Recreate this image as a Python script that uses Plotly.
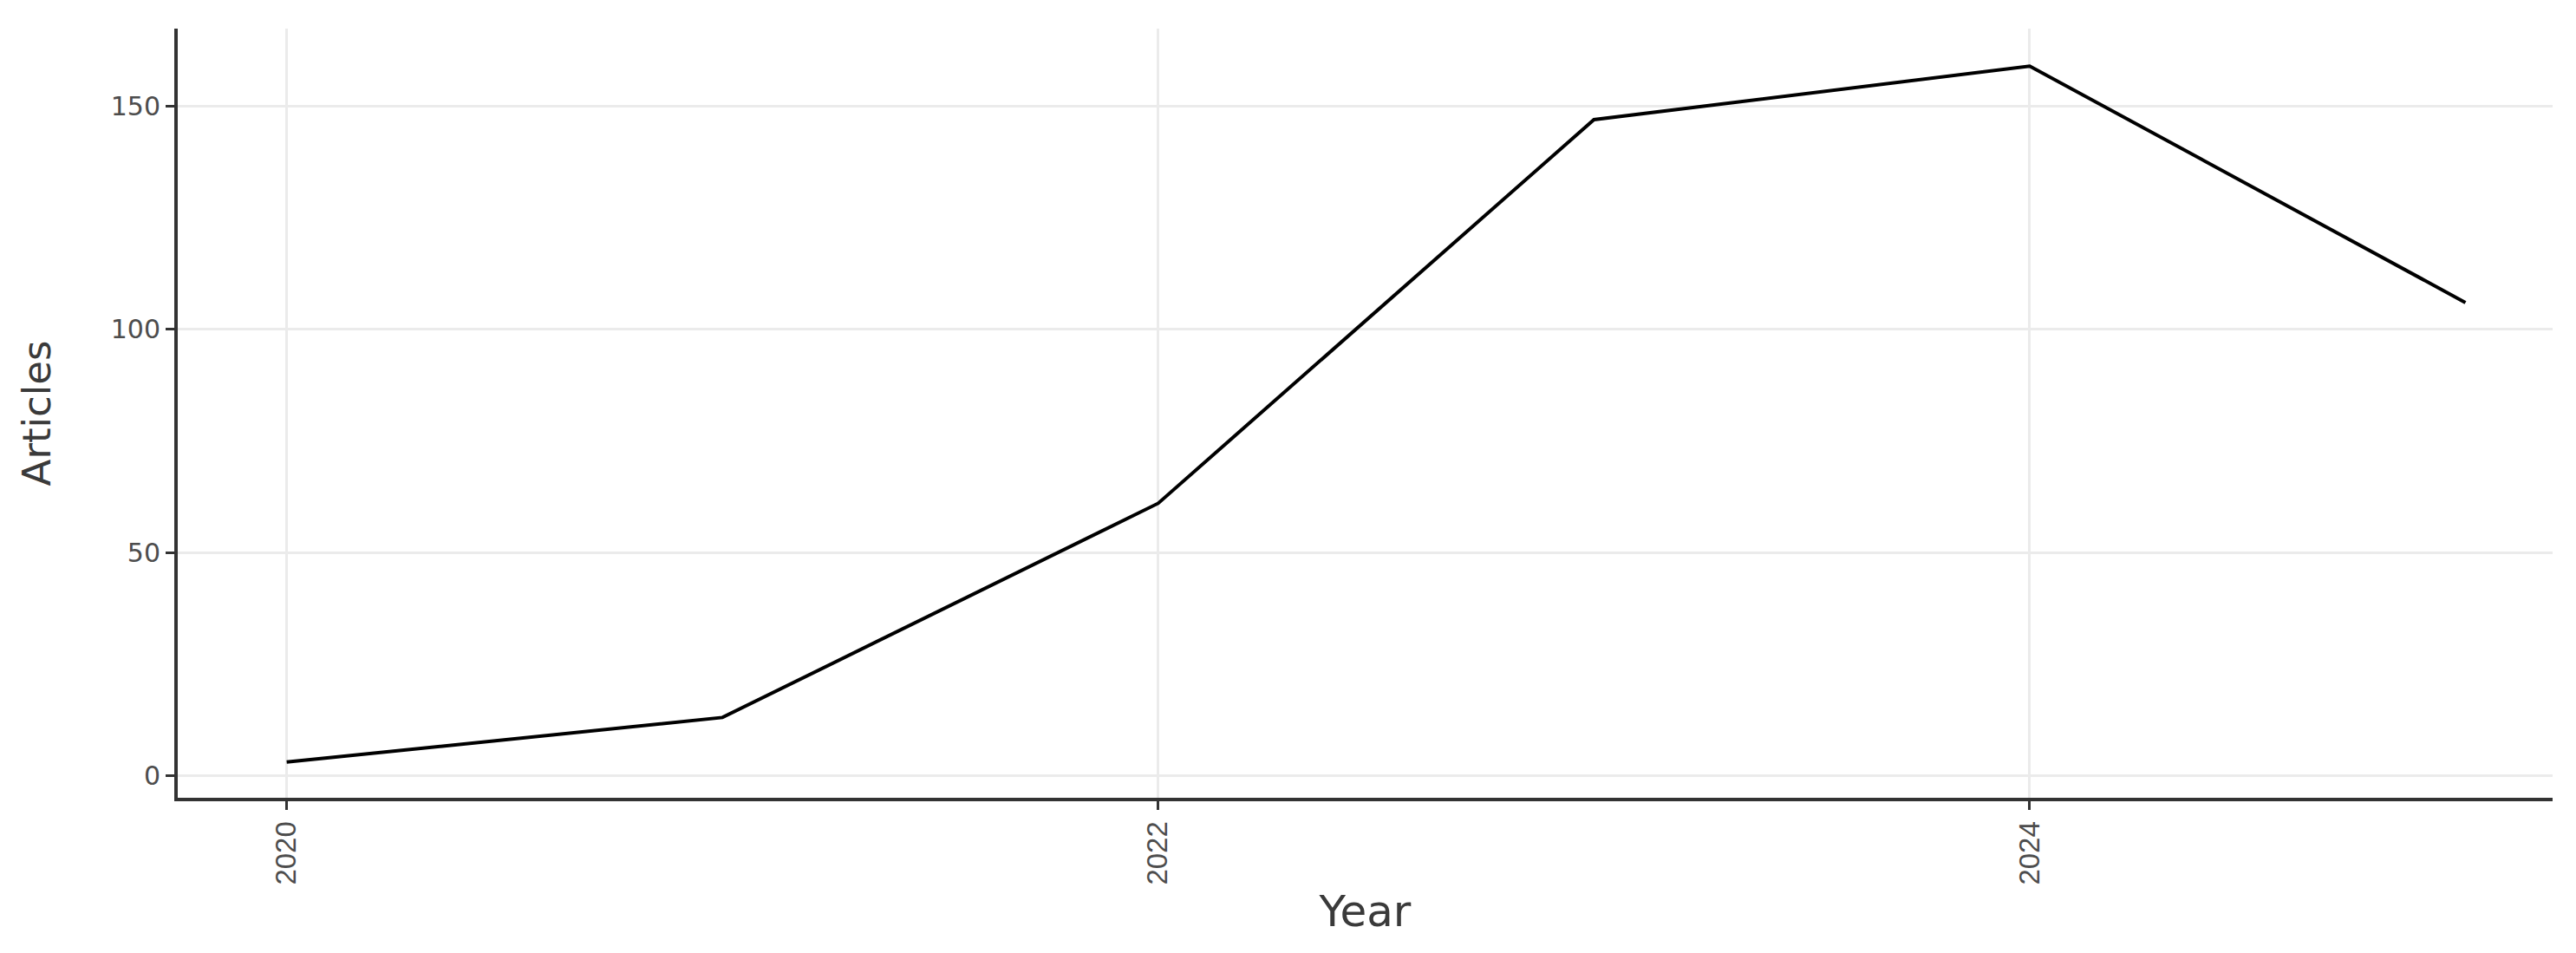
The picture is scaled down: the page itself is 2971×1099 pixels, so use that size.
import plotly.graph_objects as go

years = [2020, 2021, 2022, 2023, 2024, 2025]
articles = [3, 13, 61, 147, 159, 106]
x_tick_vals = [2020, 2022, 2024]
y_tick_vals = [0, 50, 100, 150]

fig = go.Figure()
fig.add_trace(go.Scatter(
    x=years, y=articles, mode="lines",
    line=dict(color="#000000", width=4),
    showlegend=False, hoverinfo="x+y",
))

grid = "#ebebeb"
tickcol = "rgba(77,77,77,1)"
titlecol = "#3a3a3a"

# the page body adds an 8px offset, so the figure is a bit smaller and shifted margins
fig.update_layout(
    width=2963, height=1091,
    margin=dict(l=197, r=27, t=25, b=179, autoexpand=False),
    paper_bgcolor="white", plot_bgcolor="white",
    xaxis=dict(
        range=[2019.75, 2025.2],
        tickvals=x_tick_vals, ticktext=[str(v) for v in x_tick_vals],
        tickangle=-90,
        tickfont=dict(family="Liberation Sans", size=33, color=tickcol),
        showgrid=True, gridcolor=grid, gridwidth=3,
        showline=True, linecolor="#333333", linewidth=4,
        ticks="outside", ticklen=10, tickwidth=3, tickcolor="#333333",
        zeroline=False, automargin=False,
        title=dict(text="Year", font=dict(family="DejaVu Sans", size=50, color=titlecol), standoff=14),
    ),
    yaxis=dict(
        range=[-5, 167.4],
        tickvals=y_tick_vals, ticktext=[str(v) for v in y_tick_vals],
        tickfont=dict(family="DejaVu Sans", size=30, color=tickcol),
        showgrid=True, gridcolor=grid, gridwidth=3,
        showline=True, linecolor="#333333", linewidth=4,
        ticks="outside", ticklen=10, tickwidth=3, tickcolor="#333333",
        zeroline=False, automargin=False,
        title=dict(text="Articles", font=dict(family="DejaVu Sans", size=45, color=titlecol), standoff=56),
    ),
)

fig.write_html("out.html")
